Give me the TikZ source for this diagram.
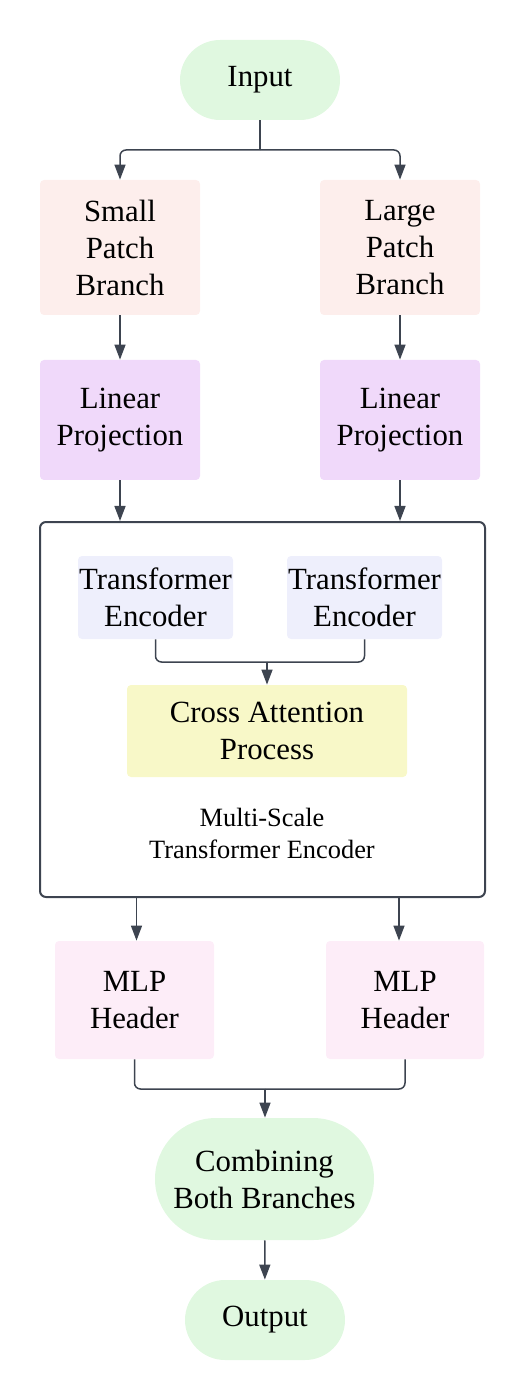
\documentclass[tikz,border=0pt]{standalone}
\usepackage{fontspec}
\setmainfont{Liberation Serif}
\usetikzlibrary{arrows.meta,shapes.misc}
\definecolor{termgreen}{HTML}{E0F8E0}
\definecolor{branchpink}{HTML}{FDEEEC}
\definecolor{projlilac}{HTML}{F0D9FA}
\definecolor{encblue}{HTML}{EEEFFC}
\definecolor{crossyellow}{HTML}{F8F8C8}
\definecolor{headpink}{HTML}{FDEDF8}
\definecolor{wire}{HTML}{3D4450}

\begin{document}
\begin{tikzpicture}[x=0.5pt,y=-0.5pt]
        \tikzstyle{every node}=[align=center,inner sep=0pt,font=\fontsize{15.4}{18.5}\selectfont]
        \tikzstyle{box}=[rectangle,rounded corners=2pt,minimum width=80pt]
        \tikzstyle{pill}=[rounded rectangle,fill=termgreen]
        \tikzstyle{line}=[draw=wire,line width=0.75pt,rounded corners=3pt]
        \tikzstyle{arr}=[line,-{Triangle[length=7.5pt,width=5.5pt]}]
        \useasboundingbox (0,0) rectangle (525,1400);
        \node[pill,minimum width=80pt,minimum height=40pt] (input) at (260,80) {Input};
        \node[box,fill=branchpink,minimum height=67.5pt] (small) at (120,247.5) {Small\\Patch\\Branch};
        \node[box,fill=branchpink,minimum height=67.5pt] (large) at (400,247.5) {Large\\Patch\\Branch};
        \node[box,fill=projlilac,minimum height=60pt] (linS) at (120,420) {Linear\\Projection};
        \node[box,fill=projlilac,minimum height=60pt] (linL) at (400,420) {Linear\\Projection};
        \node[draw=wire,line width=1pt,rounded corners=3pt,minimum width=222.5pt,minimum height=187.5pt] (msenc) at (262.5,709.5) {};
        \node[box,fill=encblue,minimum width=77.5pt,minimum height=41.5pt] (teS) at (155.5,597.5) {Transformer\\Encoder};
        \node[box,fill=encblue,minimum width=77.5pt,minimum height=41.5pt] (teL) at (364.5,597.5) {Transformer\\Encoder};
        \node[box,fill=crossyellow,minimum width=140pt,minimum height=46pt] (cross) at (267,731) {Cross Attention\\Process};
        \node[font=\fontsize{13.2}{16}\selectfont] (mslabel) at (262,833) {Multi-Scale\\Transformer Encoder};
        \node[box,fill=headpink,minimum width=79.5pt,minimum height=59pt] (mlpS) at (134.5,1000) {MLP\\Header};
        \node[box,fill=headpink,minimum width=79pt,minimum height=59pt] (mlpL) at (405,1000) {MLP\\Header};
        \node[pill,minimum width=109.5pt,minimum height=61pt] (comb) at (264.5,1179) {Combining\\Both Branches};
        \node[pill,minimum width=80pt,minimum height=40pt] (output) at (265,1320) {Output};
        \coordinate (jin) at (260,150);
        \coordinate (jte) at (267,662);
        \coordinate (jmlp) at (265,1089);
        \draw[line] (input.south) -- (jin);
        \draw[arr] (jin) -| (small.north);
        \draw[arr] (jin) -| (large.north);
        \draw[arr] (small) -- (linS);
        \draw[arr] (large) -- (linL);
        \draw[arr] (linS.south) -- (linS.south |- msenc.north);
        \draw[arr] (linL.south) -- (linL.south |- msenc.north);
        \draw[line] (teS.south) |- (jte);
        \draw[line] (teL.south) |- (jte);
        \draw[arr] (jte) -- (cross.north -| jte);
        \draw[arr] ([xshift=1pt]mlpS.north |- msenc.south) -- ([xshift=1pt]mlpS.north);
        \draw[arr] ([xshift=-3pt]mlpL.north |- msenc.south) -- ([xshift=-3pt]mlpL.north);
        \draw[line] (mlpS.south) |- (jmlp);
        \draw[line] (mlpL.south) |- (jmlp);
        \draw[arr] (jmlp) -- (comb.north -| jmlp);
        \draw[arr] (comb) -- (output);
    \end{tikzpicture}
\end{document}
